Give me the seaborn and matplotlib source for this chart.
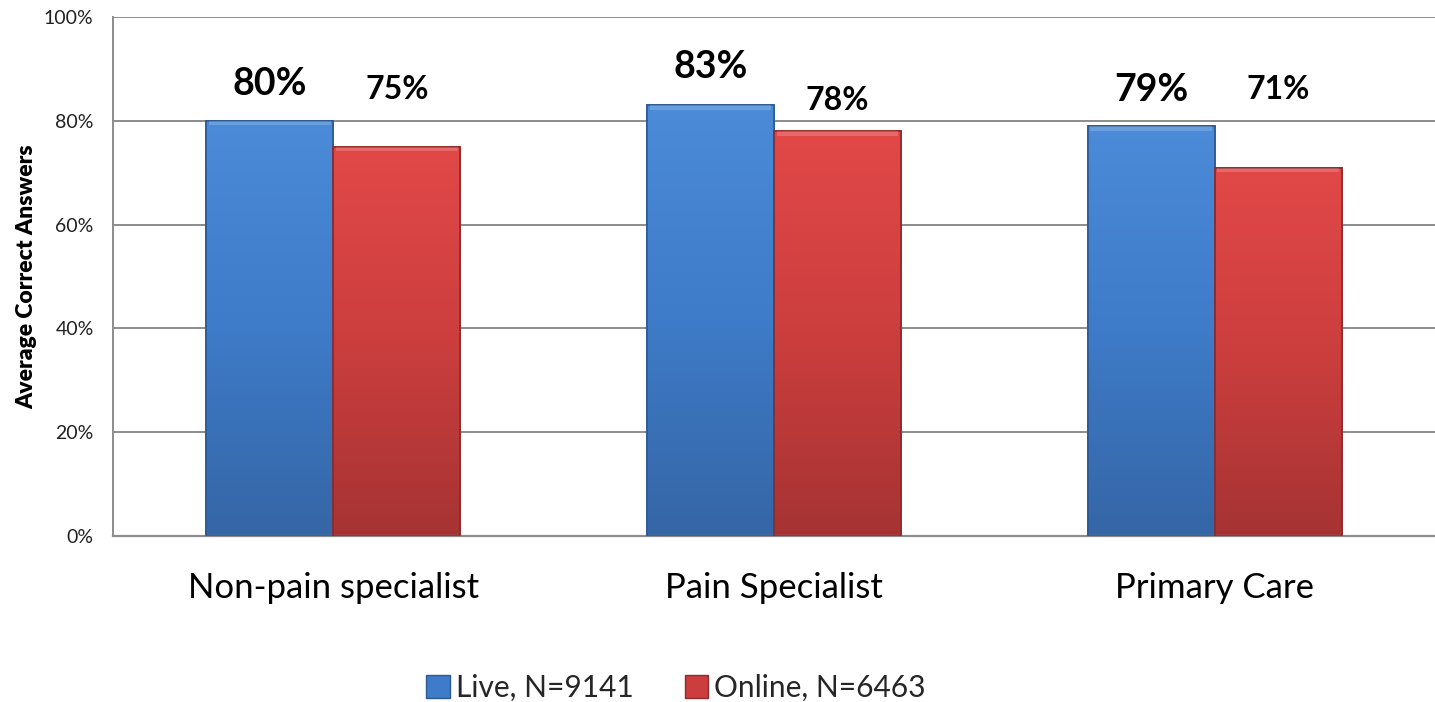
import numpy as np
import pandas as pd
import matplotlib
matplotlib.use("Agg")
import matplotlib.pyplot as plt
from matplotlib.colors import LinearSegmentedColormap
from matplotlib.patches import Patch
import seaborn as sns

# Survey results: average share of correct answers by specialty and format
categories = ["Non-pain specialist", "Pain Specialist", "Primary Care"]
series = ["Live, N=9141", "Online, N=6463"]
live_values = [80, 83, 79]
online_values = [75, 78, 71]
yticks = [0, 20, 40, 60, 80, 100]

df = pd.DataFrame({
    "category": categories * 2,
    "format": [series[0]] * 3 + [series[1]] * 3,
    "score": live_values + online_values,
})

sns.set_theme(style="white")
plt.rcParams["font.family"] = ["Lato", "DejaVu Sans"]

base_colors = {series[0]: "#3e7bc8", series[1]: "#cc3e3e"}
gradients = {
    series[0]: ["#4b8bd8", "#3e7bc8", "#3566a6"],
    series[1]: ["#e24848", "#cc3e3e", "#a63333"],
}
edge_colors = {series[0]: "#2d5a94", series[1]: "#8e2a2a"}

fig = plt.figure(figsize=(14.35, 7.02), dpi=100)
ax = fig.add_axes([113 / 1435, 1 - 536 / 702, 1 - 113 / 1435, (536 - 17) / 702])

sns.barplot(data=df, x="category", y="score", hue="format", order=categories,
            hue_order=series, palette=base_colors, width=0.576, ax=ax,
            legend=False, saturation=1, errorbar=None)

ax.set_ylim(0, 100)
xlim = ax.get_xlim()

# vertical gradient fill for each bar, clipped to the bar outline
bars = list(ax.patches)
for i, bar in enumerate(bars):
    key = series[i // len(categories)]
    cmap = LinearSegmentedColormap.from_list(key, gradients[key][::-1])
    x, y = bar.get_x(), bar.get_y()
    w, h = bar.get_width(), bar.get_height()
    grad = np.linspace(0, 1, 256).reshape(-1, 1)
    im = ax.imshow(grad, extent=[x, x + w, y, y + h], origin="lower",
                   aspect="auto", cmap=cmap, zorder=2.5)
    im.set_clip_path(bar)
    bar.set_edgecolor(edge_colors[key])
    bar.set_linewidth(1.2)
    bar.set_zorder(2)
    outline = plt.Rectangle((x, y), w, h, fill=False, edgecolor=edge_colors[key],
                            linewidth=1.2, zorder=2.6)
    ax.add_patch(outline)
    # lighter bevel along the top edge
    bevel = plt.Rectangle((x + w * 0.02, y + h - 0.9), w * 0.96, 0.9,
                          facecolor="white", alpha=0.18, linewidth=0, zorder=2.7)
    ax.add_patch(bevel)

ax.set_xlim(xlim)
ax.set_ylim(0, 100)

# value labels above bars
live_label_y = [87.0, 90.3, 86.0]
online_label_y = [86.0, 84.0, 86.0]
n = len(categories)
for i in range(n):
    b = bars[i]
    ax.text(b.get_x() + b.get_width() / 2, live_label_y[i], f"{live_values[i]}%",
            ha="center", va="center", fontsize=27, fontweight="bold", color="black")
    b = bars[n + i]
    ax.text(b.get_x() + b.get_width() / 2, online_label_y[i], f"{online_values[i]}%",
            ha="center", va="center", fontsize=23, fontweight="bold", color="black")

ax.set_yticks(yticks)
ax.set_yticklabels([f"{t}%" for t in yticks], fontsize=14, color="#222222")
ax.yaxis.grid(True, color="#8c8c8c", linewidth=1.4)
ax.set_axisbelow(True)
ax.tick_params(axis="y", length=0, pad=14)
ax.tick_params(axis="x", length=0, pad=26, labelsize=25, labelcolor="black")
ax.set_xlabel("")
ax.set_ylabel("Average Correct Answers", fontsize=16.5, fontweight="heavy",
              color="black")
ax.yaxis.set_label_coords(-0.057, 0.5)
for side in ["top", "right"]:
    ax.spines[side].set_visible(False)
ax.spines["left"].set_color("#8c8c8c")
ax.spines["left"].set_linewidth(1.4)
ax.spines["bottom"].set_color("#8c8c8c")
ax.spines["bottom"].set_linewidth(1.6)

handles = [Patch(facecolor=base_colors[s], edgecolor=edge_colors[s], label=s) for s in series]
fig.legend(handles=handles, loc="center", bbox_to_anchor=(676 / 1435, 1 - 688 / 702),
           ncol=2, frameon=False, fontsize=21.5, handlelength=0.8, handleheight=0.8,
           handletextpad=0.2, columnspacing=1.7)

fig.savefig("out.png", dpi=100)
